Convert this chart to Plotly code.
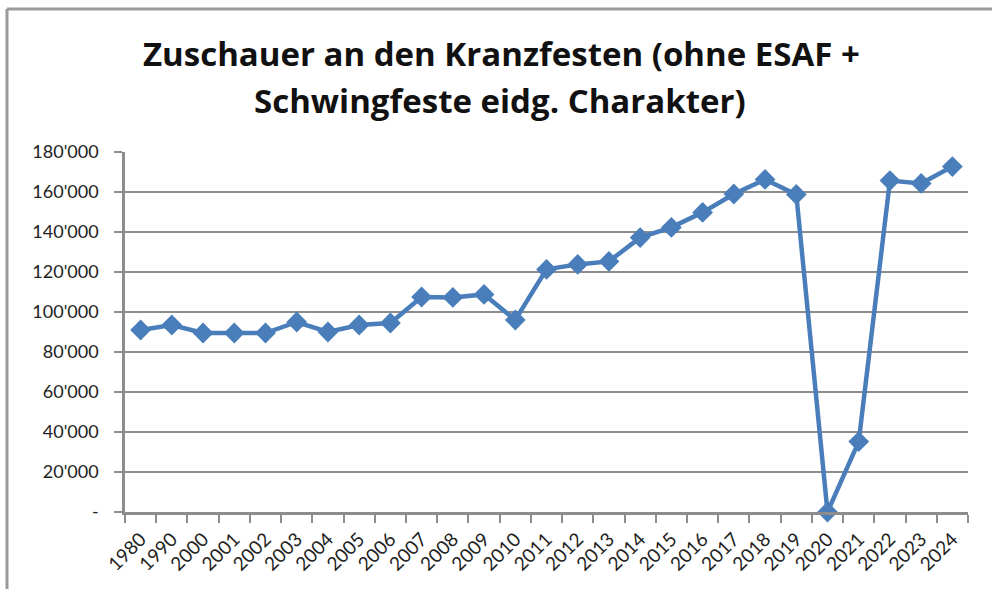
import plotly.graph_objects as go

years = ["1980", "1990", "2000", "2001", "2002", "2003", "2004", "2005", "2006", "2007",
         "2008", "2009", "2010", "2011", "2012", "2013", "2014", "2015", "2016", "2017",
         "2018", "2019", "2020", "2021", "2022", "2023", "2024"]
spectators = [91000, 93500, 89500, 89500, 89500, 95000, 90000, 93500, 94500, 107500,
              107300, 108800, 96000, 121300, 123800, 125300, 137200, 142300, 149800, 159000,
              166300, 158800, 0, 35200, 165700, 164300, 172700]

y_ticks = [0, 20000, 40000, 60000, 80000, 100000, 120000, 140000, 160000, 180000]
y_tick_text = ["-", "20'000", "40'000", "60'000", "80'000", "100'000", "120'000",
               "140'000", "160'000", "180'000"]

title_line1 = "Zuschauer an den Kranzfesten (ohne ESAF +"
title_line2 = "Schwingfeste eidg. Charakter)"

W, H = 992, 589
L, R, T, B = 125, 24, 152, 77
pw, ph = W - L - R, H - T - B

def px_x(p):
    return (p - L) / pw

def px_y(p):
    return (H - B - p) / ph

fig = go.Figure()
fig.add_trace(go.Scatter(
    x=years, y=spectators, mode="lines+markers",
    line=dict(color="#4A7EBB", width=4.5),
    marker=dict(symbol="diamond", size=16, color="#4A7EBB"),
    cliponaxis=False, showlegend=False,
))

fig.update_layout(
    width=W, height=H,
    margin=dict(l=L, r=R, t=T, b=B, autoexpand=False),
    paper_bgcolor="white", plot_bgcolor="white",
    font=dict(family="Lato, Carlito, sans-serif", color="#222222", size=18),
    xaxis=dict(
        type="category", tickson="boundaries", ticks="outside", ticklen=8,
        tickcolor="#8C8C8C", tickwidth=2, tickangle=-45,
        range=[-0.5, len(years) - 0.5], automargin=False,
        showline=True, linecolor="#8C8C8C", linewidth=2.5, showgrid=False,
        tickfont=dict(size=19, color="#222222"), ticklabelstandoff=6,
    ),
    yaxis=dict(
        range=[0, 180000], tickvals=y_ticks, ticktext=y_tick_text, automargin=False,
        ticks="outside", ticklen=8, tickcolor="#8C8C8C", tickwidth=2,
        showline=True, linecolor="#8C8C8C", linewidth=2.5,
        showgrid=True, gridcolor="#8C8C8C", gridwidth=1.5, zeroline=False,
        tickfont=dict(size=18, color="#222222"), ticklabelstandoff=12,
    ),
    annotations=[
        dict(text=title_line1, x=px_x(501), y=px_y(53), xref="paper", yref="paper",
             xanchor="center", yanchor="middle", showarrow=False,
             font=dict(size=33, family="Open Sans, sans-serif", color="#111111", weight="bold")),
        dict(text=title_line2, x=px_x(500), y=px_y(100), xref="paper", yref="paper",
             xanchor="center", yanchor="middle", showarrow=False,
             font=dict(size=33, family="Open Sans, sans-serif", color="#111111", weight="bold")),
    ],
    shapes=[
        dict(type="line", xref="paper", yref="paper", x0=px_x(7), x1=px_x(W + 5),
             y0=px_y(9), y1=px_y(9), line=dict(color="#9A9A9A", width=3)),
        dict(type="line", xref="paper", yref="paper", x0=px_x(7), x1=px_x(7),
             y0=px_y(9), y1=px_y(H + 5), line=dict(color="#9A9A9A", width=3)),
    ],
)

fig.write_html("out.html", config={"displayModeBar": False},
               post_script="document.body.style.margin='0';document.body.style.overflow='hidden';")
